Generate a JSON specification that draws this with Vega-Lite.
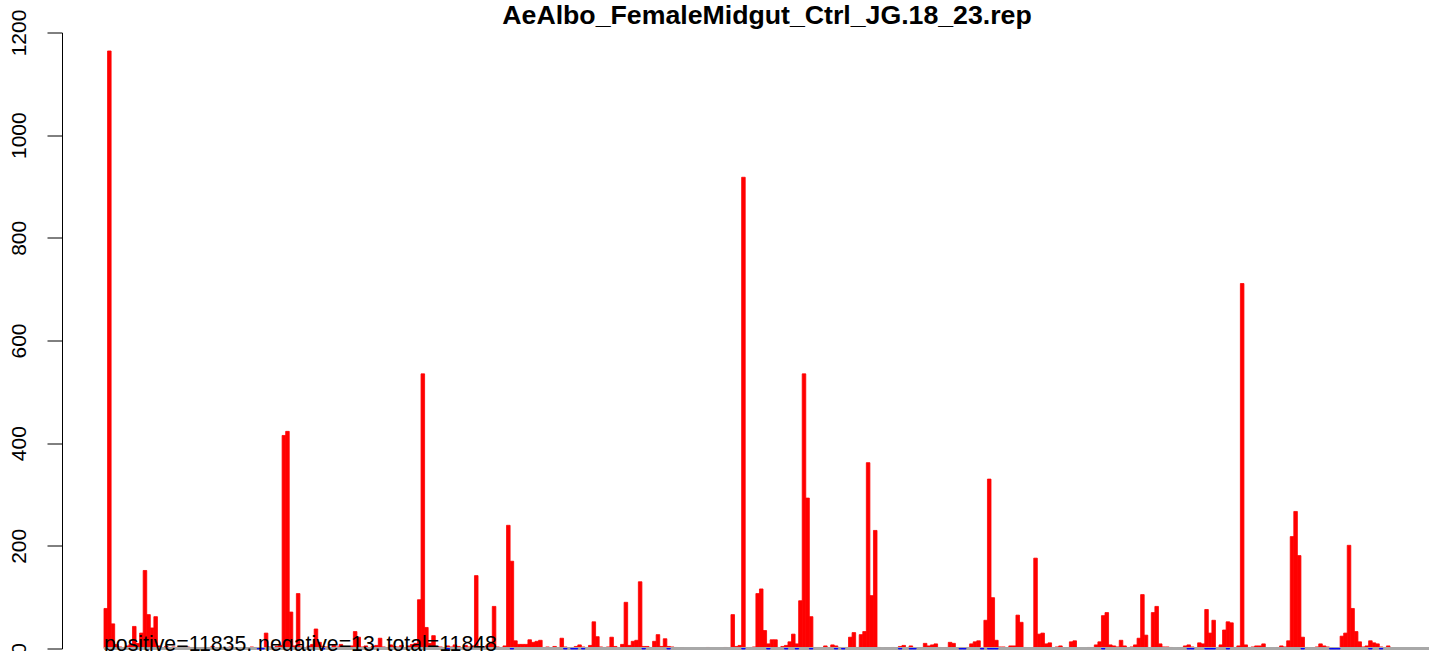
{
"$schema": "https://vega.github.io/schema/vega-lite/v6.json",
"width": 1367, "height": 616,
"autosize": {"type": "none"},
"padding": {"left": 62, "top": 32.5, "right": 0, "bottom": 2.5},
"background": "white",
"config": {"view": {"stroke": null}, "font": "Liberation Sans"},
"title": {"text": "AeAlbo_FemaleMidgut_Ctrl_JG.18_23.rep", "font": "Liberation Sans", "fontSize": 26.7, "fontWeight": "bold", "color": "black", "anchor": "middle", "dx": 21.5, "offset": 0, "baseline": "alphabetic", "dy": 42},
"datasets": {
"bins": [
{"i":0,"v":78},{"i":1,"v":1164},{"i":2,"v":48},{"i":3,"v":8},{"i":4,"v":3},{"i":5,"v":2},{"i":6,"v":5},{"i":7,"v":8},{"i":8,"v":43},{"i":9,"v":10},{"i":10,"v":30},{"i":11,"v":152},{"i":12,"v":66},{"i":13,"v":40},{"i":14,"v":62},{"i":15,"v":5},{"i":16,"v":2},{"i":17,"v":4},{"i":18,"v":1},{"i":19,"v":3},{"i":20,"v":2},{"i":22,"v":1},{"i":23,"v":3},{"i":24,"v":2},{"i":25,"v":1},{"i":27,"v":2},{"i":28,"v":1},{"i":29,"v":2},{"i":30,"v":4},{"i":31,"v":1},{"i":32,"v":2},{"i":34,"v":1},{"i":35,"v":3},{"i":36,"v":2},{"i":37,"v":1},{"i":39,"v":2},{"i":40,"v":1},{"i":41,"v":3},{"i":42,"v":2},{"i":43,"v":1},{"i":45,"v":30},{"i":46,"v":3},{"i":47,"v":2},{"i":48,"v":4},{"i":49,"v":6},
{"i":50,"v":415},{"i":51,"v":423},{"i":52,"v":71},{"i":53,"v":5},{"i":54,"v":107},{"i":55,"v":3},{"i":56,"v":2},{"i":57,"v":5},{"i":58,"v":8},{"i":59,"v":38},{"i":60,"v":12},{"i":61,"v":4},{"i":62,"v":3},{"i":63,"v":2},{"i":64,"v":6},{"i":65,"v":3},{"i":66,"v":8},{"i":67,"v":4},{"i":68,"v":2},{"i":69,"v":5},{"i":70,"v":33},{"i":71,"v":22},{"i":72,"v":3},{"i":73,"v":5},{"i":74,"v":2},{"i":75,"v":4},{"i":76,"v":6},{"i":77,"v":20},{"i":78,"v":3},{"i":79,"v":2},{"i":80,"v":7},{"i":81,"v":4},{"i":82,"v":3},{"i":83,"v":6},{"i":84,"v":2},{"i":85,"v":5},{"i":86,"v":8},{"i":87,"v":10},{"i":88,"v":95},{"i":89,"v":535},{"i":90,"v":41},{"i":91,"v":10},{"i":92,"v":25},{"i":93,"v":4},{"i":94,"v":3},{"i":95,"v":2},{"i":96,"v":5},{"i":97,"v":3},{"i":98,"v":7},{"i":99,"v":4},
{"i":100,"v":2},{"i":101,"v":6},{"i":102,"v":3},{"i":103,"v":5},{"i":104,"v":142},{"i":105,"v":3},{"i":106,"v":2},{"i":107,"v":5},{"i":108,"v":10},{"i":109,"v":82},{"i":110,"v":3},{"i":111,"v":2},{"i":112,"v":5},{"i":113,"v":240},{"i":114,"v":170},{"i":115,"v":15},{"i":116,"v":8},{"i":117,"v":8},{"i":118,"v":8},{"i":119,"v":17},{"i":120,"v":12},{"i":121,"v":14},{"i":122,"v":16},{"i":123,"v":2},{"i":124,"v":3},{"i":125,"v":1},{"i":126,"v":4},{"i":127,"v":2},{"i":128,"v":20},{"i":129,"v":3},{"i":130,"v":1},{"i":131,"v":2},{"i":132,"v":4},{"i":133,"v":7},{"i":134,"v":3},{"i":135,"v":2},{"i":136,"v":6},{"i":137,"v":52},{"i":138,"v":23},{"i":139,"v":3},{"i":140,"v":2},{"i":141,"v":3},{"i":142,"v":22},{"i":143,"v":4},{"i":144,"v":2},{"i":145,"v":8},{"i":146,"v":90},{"i":147,"v":6},{"i":148,"v":14},{"i":149,"v":16},
{"i":150,"v":130},{"i":151,"v":4},{"i":152,"v":4},{"i":153,"v":2},{"i":154,"v":14},{"i":155,"v":27},{"i":156,"v":4},{"i":157,"v":19},{"i":158,"v":4},{"i":159,"v":3},{"i":160,"v":2},{"i":161,"v":1},{"i":162,"v":1},{"i":169,"v":2},{"i":174,"v":2},{"i":176,"v":66},{"i":177,"v":4},{"i":178,"v":6},{"i":179,"v":918},{"i":180,"v":2},{"i":181,"v":2},{"i":182,"v":3},{"i":183,"v":107},{"i":184,"v":116},{"i":185,"v":35},{"i":186,"v":9},{"i":187,"v":17},{"i":188,"v":17},{"i":189,"v":2},{"i":190,"v":4},{"i":191,"v":6},{"i":192,"v":13},{"i":193,"v":28},{"i":194,"v":9},{"i":195,"v":93},{"i":196,"v":535},{"i":197,"v":293},{"i":198,"v":62},{"i":199,"v":2},
{"i":200,"v":2},{"i":201,"v":1},{"i":202,"v":5},{"i":203,"v":2},{"i":204,"v":7},{"i":205,"v":5},{"i":206,"v":2},{"i":207,"v":2},{"i":208,"v":2},{"i":209,"v":22},{"i":210,"v":31},{"i":211,"v":2},{"i":212,"v":27},{"i":213,"v":33},{"i":214,"v":362},{"i":215,"v":103},{"i":216,"v":230},{"i":217,"v":2},{"i":219,"v":1},{"i":220,"v":1},{"i":221,"v":2},{"i":222,"v":1},{"i":223,"v":4},{"i":224,"v":6},{"i":225,"v":2},{"i":226,"v":5},{"i":227,"v":2},{"i":228,"v":1},{"i":229,"v":1},{"i":230,"v":10},{"i":231,"v":5},{"i":232,"v":7},{"i":233,"v":9},{"i":234,"v":2},{"i":235,"v":1},{"i":236,"v":2},{"i":237,"v":12},{"i":238,"v":10},{"i":239,"v":1},{"i":240,"v":2},{"i":241,"v":1},{"i":242,"v":2},{"i":243,"v":9},{"i":244,"v":13},{"i":245,"v":15},{"i":246,"v":2},{"i":247,"v":55},{"i":248,"v":330},{"i":249,"v":99},
{"i":250,"v":16},{"i":251,"v":3},{"i":252,"v":3},{"i":253,"v":1},{"i":254,"v":5},{"i":255,"v":5},{"i":256,"v":65},{"i":257,"v":51},{"i":258,"v":2},{"i":259,"v":1},{"i":260,"v":1},{"i":261,"v":176},{"i":262,"v":28},{"i":263,"v":30},{"i":264,"v":9},{"i":265,"v":11},{"i":266,"v":1},{"i":267,"v":3},{"i":268,"v":5},{"i":269,"v":1},{"i":270,"v":1},{"i":271,"v":13},{"i":272,"v":15},{"i":276,"v":2},{"i":277,"v":2},{"i":278,"v":7},{"i":279,"v":13},{"i":280,"v":64},{"i":281,"v":70},{"i":282,"v":7},{"i":283,"v":5},{"i":284,"v":3},{"i":285,"v":16},{"i":286,"v":5},{"i":287,"v":2},{"i":288,"v":3},{"i":289,"v":7},{"i":290,"v":20},{"i":291,"v":105},{"i":292,"v":26},{"i":293,"v":1},{"i":294,"v":70},{"i":295,"v":82},{"i":296,"v":9},{"i":297,"v":3},{"i":298,"v":3},{"i":299,"v":2},
{"i":301,"v":1},{"i":302,"v":2},{"i":303,"v":5},{"i":304,"v":7},{"i":305,"v":3},{"i":306,"v":1},{"i":307,"v":11},{"i":308,"v":9},{"i":309,"v":76},{"i":310,"v":30},{"i":311,"v":55},{"i":312,"v":2},{"i":313,"v":7},{"i":314,"v":36},{"i":315,"v":52},{"i":316,"v":50},{"i":317,"v":2},{"i":318,"v":5},{"i":319,"v":711},{"i":320,"v":7},{"i":321,"v":2},{"i":322,"v":3},{"i":323,"v":5},{"i":324,"v":5},{"i":325,"v":9},{"i":329,"v":2},{"i":330,"v":5},{"i":331,"v":3},{"i":332,"v":15},{"i":333,"v":218},{"i":334,"v":267},{"i":335,"v":181},{"i":336,"v":22},{"i":337,"v":2},{"i":339,"v":1},{"i":340,"v":3},{"i":341,"v":9},{"i":342,"v":5},{"i":343,"v":3},{"i":344,"v":1},{"i":347,"v":24},{"i":348,"v":30},{"i":349,"v":201},
{"i":350,"v":78},{"i":351,"v":33},{"i":352,"v":13},{"i":353,"v":3},{"i":354,"v":5},{"i":355,"v":15},{"i":356,"v":11},{"i":357,"v":9},{"i":358,"v":3},{"i":359,"v":2},{"i":360,"v":5},
{"i":43,"v":-1},{"i":44,"v":-1},{"i":61,"v":-1},{"i":96,"v":-1},{"i":114,"v":-1},{"i":129,"v":-1},{"i":131,"v":-1},{"i":132,"v":-1},{"i":134,"v":-1},{"i":151,"v":-1},{"i":158,"v":-1},{"i":179,"v":-1},{"i":186,"v":-1},{"i":191,"v":-1},{"i":194,"v":-1},{"i":198,"v":-1},{"i":205,"v":-1},{"i":207,"v":-1},{"i":223,"v":-1},{"i":226,"v":-1},{"i":227,"v":-1},{"i":240,"v":-1},{"i":241,"v":-1},{"i":246,"v":-1},{"i":248,"v":-1},{"i":249,"v":-1},{"i":250,"v":-1},{"i":280,"v":-1},{"i":304,"v":-1},{"i":305,"v":-1},{"i":309,"v":-1},{"i":310,"v":-1},{"i":311,"v":-1},{"i":315,"v":-1},{"i":336,"v":-1},{"i":344,"v":-1},{"i":345,"v":-1},{"i":346,"v":-1},{"i":355,"v":-1},{"i":358,"v":-1}
],
"note": [{"label": "positive=11835, negative=13, total=11848"}]
},
"layer": [
{
"data": {"name": "bins"},
"transform": [{"filter": "datum.v > 0"}],
"mark": {"type": "bar", "width": 3.5623, "fill": "#FF0000", "stroke": "#FF0000", "strokeWidth": 0.8},
"encoding": {
"x": {"field": "i", "type": "quantitative", "scale": {"domain": [-12.29, 371.45], "nice": false, "zero": false, "padding": 0}, "axis": null},
"y": {"field": "v", "type": "quantitative", "scale": {"domain": [0, 1200], "nice": false, "zero": false},
"axis": {"values": [0, 200, 400, 600, 800, 1000, 1200], "format": "d", "title": null, "grid": false, "domainColor": "black", "domainWidth": 1, "tickColor": "black", "tickWidth": 1, "tickSize": 15, "labelPadding": 22, "labelAngle": 270, "labelAlign": "center", "labelBaseline": "alphabetic", "labelFont": "Liberation Sans", "labelFontSize": 21, "labelColor": "black", "labelOverlap": false, "labelFlush": false, "labelBound": false}}
}
},
{
"data": {"name": "bins"},
"mark": {"type": "rule", "color": "#A8A8A8", "strokeWidth": 1.7},
"encoding": {
"x": {"datum": -0.5, "type": "quantitative", "scale": {"domain": [-12.29, 371.45], "nice": false, "zero": false, "padding": 0}},
"x2": {"datum": 371.45},
"y": {"datum": 0, "type": "quantitative", "scale": {"domain": [0, 1200], "nice": false, "zero": false}}
}
},
{
"data": {"name": "bins"},
"transform": [{"filter": "datum.v < 0"}],
"mark": {"type": "bar", "width": 3.5623, "fill": "#0000FF", "stroke": "#0000FF", "strokeWidth": 0.8},
"encoding": {
"x": {"field": "i", "type": "quantitative", "scale": {"domain": [-12.29, 371.45], "nice": false, "zero": false, "padding": 0}},
"y": {"field": "v", "type": "quantitative", "scale": {"domain": [0, 1200], "nice": false, "zero": false}}
}
},
{
"data": {"name": "note"},
"mark": {"type": "text", "align": "left", "baseline": "alphabetic", "font": "Liberation Sans", "fontSize": 21.3, "color": "black", "dy": 2.5},
"encoding": {
"x": {"datum": -0.5, "type": "quantitative", "scale": {"domain": [-12.29, 371.45], "nice": false, "zero": false, "padding": 0}},
"y": {"datum": 0, "type": "quantitative", "scale": {"domain": [0, 1200], "nice": false, "zero": false}},
"text": {"field": "label"}
}
}
]
}
